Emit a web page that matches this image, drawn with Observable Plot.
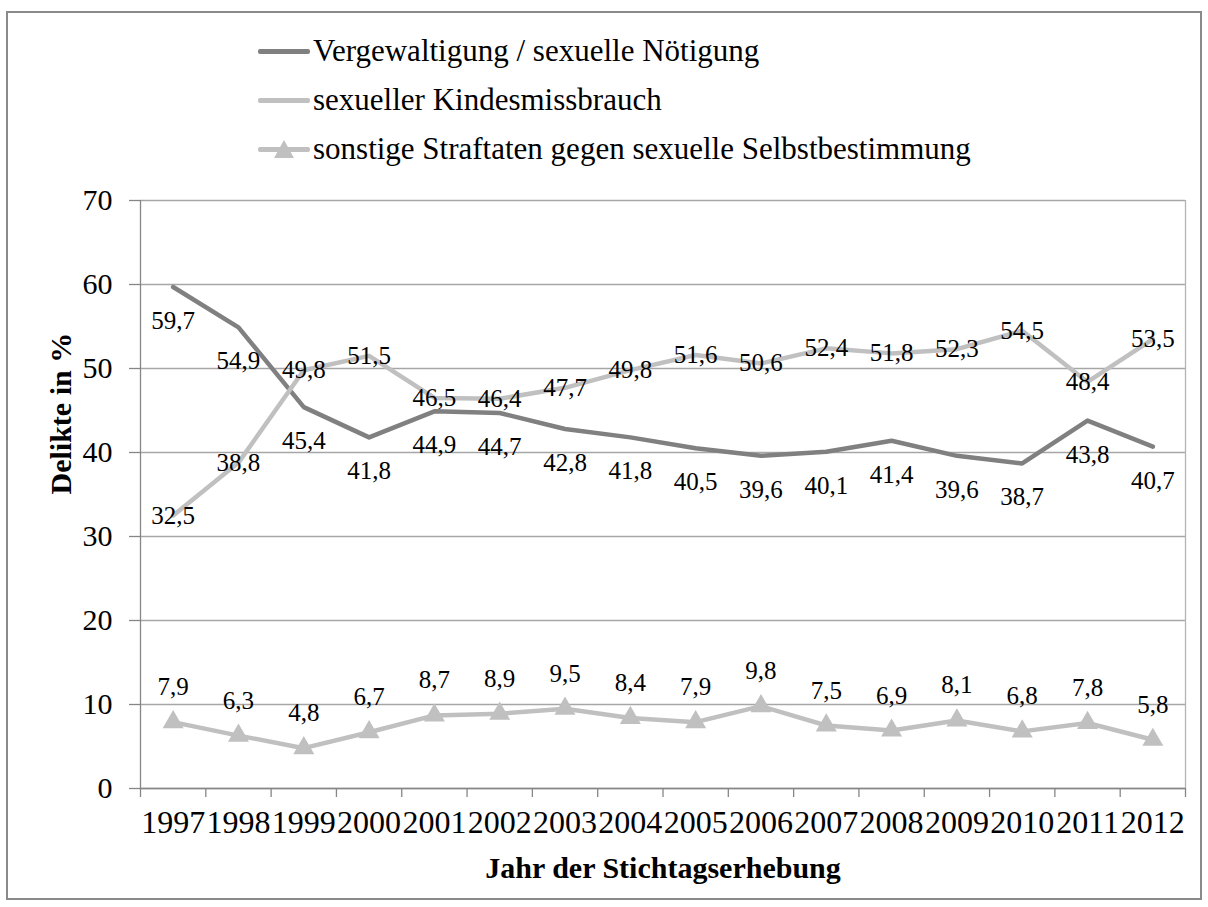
<!DOCTYPE html>
<html>
<head>
<meta charset="utf-8">
<script src="https://cdn.jsdelivr.net/npm/d3@7"></script>
<script src="https://cdn.jsdelivr.net/npm/@observablehq/plot@0.6"></script>
<style>
  html, body { margin: 0; padding: 0; background: #fff; }
  body { width: 1208px; height: 907px; position: relative; overflow: hidden; font-family: "Liberation Serif", "Times New Roman", serif; }
  #frame { position: absolute; left: 6px; top: 11px; width: 1196px; height: 889px; border: 2px solid #8a8a8a; box-sizing: border-box; }
  #legend { position: absolute; left: 0; top: 0; width: 1208px; height: 175px; }
  .item { position: absolute; left: 258px; height: 40px; display: flex; align-items: center; font-family: "Liberation Serif", "Times New Roman", serif; font-size: 31px; color: #000; white-space: nowrap; }
  .sw { position: relative; width: 52px; height: 40px; margin-right: 3px; }
  .sw .ln { position: absolute; left: 0; right: 0; top: 18px; height: 5px; border-radius: 2px; }
  .sw .tri { position: absolute; left: 16px; top: 11px; width: 0; height: 0; border-left: 10px solid transparent; border-right: 10px solid transparent; border-bottom: 18px solid #c0c0c0; }
  #chart { position: absolute; left: 0; top: 175px; }
</style>
</head>
<body>
<div id="frame"></div>
<div id="legend"></div>
<div id="chart"></div>
<script>
const years = [1997, 1998, 1999, 2000, 2001, 2002, 2003, 2004, 2005, 2006, 2007, 2008, 2009, 2010, 2011, 2012];
const vergewaltigung = [59.7, 54.9, 45.4, 41.8, 44.9, 44.7, 42.8, 41.8, 40.5, 39.6, 40.1, 41.4, 39.6, 38.7, 43.8, 40.7];
const kindesmissbrauch = [32.5, 38.8, 49.8, 51.5, 46.5, 46.4, 47.7, 49.8, 51.6, 50.6, 52.4, 51.8, 52.3, 54.5, 48.4, 53.5];
const sonstige = [7.9, 6.3, 4.8, 6.7, 8.7, 8.9, 9.5, 8.4, 7.9, 9.8, 7.5, 6.9, 8.1, 6.8, 7.8, 5.8];
const yTicks = [0, 10, 20, 30, 40, 50, 60, 70];
const seriesNames = ["Vergewaltigung / sexuelle Nötigung", "sexueller Kindesmissbrauch", "sonstige Straftaten gegen sexuelle Selbstbestimmung"];
const seriesColors = ["#808080", "#c0c0c0", "#c0c0c0"];
const xTitle = "Jahr der Stichtagserhebung";
const yTitle = "Delikte in %";

const FONT = "'Liberation Serif', 'Times New Roman', serif";
const data = years.map((year, i) => ({year, v: vergewaltigung[i], k: kindesmissbrauch[i], s: sonstige[i]}));
const boundaries = [years[0] - 0.5, ...years.map(y => y + 0.5)];
const fmt = v => v.toFixed(1).replace(".", ",");

// legend (HTML, above the SVG)
const legend = document.getElementById("legend");
const rowTops = [31, 80, 129];
seriesNames.forEach((name, i) => {
  const item = document.createElement("div");
  item.className = "item";
  item.style.top = rowTops[i] + "px";
  const sw = document.createElement("div");
  sw.className = "sw";
  const ln = document.createElement("div");
  ln.className = "ln";
  ln.style.background = seriesColors[i];
  sw.appendChild(ln);
  if (i === 2) { const t = document.createElement("div"); t.className = "tri"; sw.appendChild(t); }
  item.appendChild(sw);
  const tx = document.createElement("span");
  tx.textContent = name;
  item.appendChild(tx);
  legend.appendChild(item);
});

const chart = Plot.plot({
  width: 1208,
  height: 732,
  marginTop: 25,
  marginBottom: 119,
  marginLeft: 140,
  marginRight: 23,
  x: {domain: [boundaries[0], boundaries[boundaries.length - 1]]},
  y: {domain: [0, 70]},
  style: {fontFamily: FONT, background: "transparent", color: "#000", overflow: "visible"},
  marks: [
    Plot.gridY(yTicks, {stroke: "#a6a6a6", strokeOpacity: 1, strokeWidth: 1.3}),
    Plot.ruleX([boundaries[boundaries.length - 1]], {stroke: "#b4b4b4", strokeWidth: 1.3}),
    Plot.ruleX([boundaries[0]], {stroke: "#868686", strokeWidth: 1.3}),
    Plot.ruleY([0], {stroke: "#868686", strokeWidth: 1.3}),
    Plot.axisY(yTicks, {tickSize: 11, tickPadding: 17, fontSize: 30, fontFamily: FONT, stroke: "#868686", strokeWidth: 1.3, label: null, fill: "#000"}),
    Plot.axisX(boundaries, {tickSize: 9, tickFormat: () => "", label: null, stroke: "#868686", strokeWidth: 1.3}),
    Plot.axisX(years, {tickSize: 0, tickPadding: 22, tickFormat: d => String(d), fontSize: 32, fontFamily: FONT, label: null, fill: "#000"}),
    Plot.line(data, {x: "year", y: "v", stroke: seriesColors[0], strokeWidth: 4.5}),
    Plot.line(data, {x: "year", y: "k", stroke: seriesColors[1], strokeWidth: 4.5}),
    Plot.line(data, {x: "year", y: "s", stroke: seriesColors[2], strokeWidth: 4.5}),
    Plot.dot(data, {x: "year", y: "s", symbol: "triangle", r: 7.8, fill: seriesColors[2], stroke: "none"}),
    Plot.text(data, {x: "year", y: "v", text: d => fmt(d.v), dy: 34, fontSize: 25, fontFamily: FONT, fill: "#000"}),
    Plot.text(data, {x: "year", y: "k", text: d => fmt(d.k), dy: 0, fontSize: 25, fontFamily: FONT, fill: "#000"}),
    Plot.text(data, {x: "year", y: "s", text: d => fmt(d.s), dy: -35, fontSize: 25, fontFamily: FONT, fill: "#000"}),
    Plot.text([xTitle], {frameAnchor: "bottom", dy: 89, fontSize: 30, fontFamily: FONT, fontWeight: "bold", fill: "#000"}),
    Plot.text([yTitle], {frameAnchor: "left", dx: -79, rotate: -90, fontSize: 30, fontFamily: FONT, fontWeight: "bold", fill: "#000"})
  ]
});
document.getElementById("chart").appendChild(chart);
</script>
</body>
</html>
